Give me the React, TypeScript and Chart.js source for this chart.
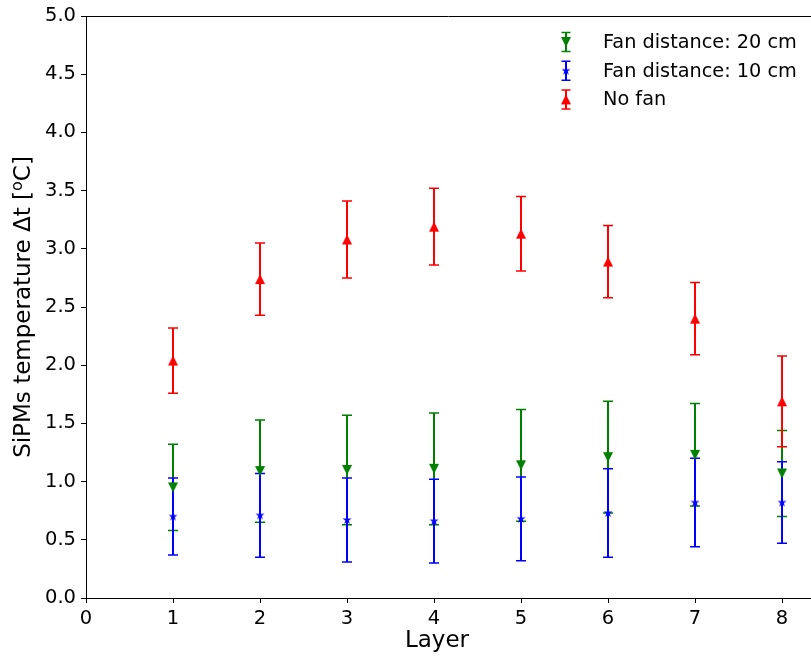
import { useEffect, useRef } from "react";
import { Chart, registerables } from "chart.js";

Chart.register(...registerables);

// Layer index on the x axis
const layers = [1, 2, 3, 4, 5, 6, 7, 8];

// Temperature rise (°C) and its uncertainty per layer
const fan20 = [0.95, 1.09, 1.1, 1.11, 1.14, 1.21, 1.23, 1.07];
const fan20Err = [0.37, 0.44, 0.47, 0.48, 0.48, 0.48, 0.44, 0.37];
const fan10 = [0.7, 0.71, 0.67, 0.66, 0.68, 0.73, 0.82, 0.82];
const fan10Err = [0.33, 0.36, 0.36, 0.36, 0.36, 0.38, 0.38, 0.35];
const noFan = [2.04, 2.74, 3.08, 3.19, 3.13, 2.89, 2.4, 1.69];
const noFanErr = [0.28, 0.31, 0.33, 0.33, 0.32, 0.31, 0.31, 0.39];

const xTicks = [0, 1, 2, 3, 4, 5, 6, 7, 8];
const yTicks = [0, 0.5, 1, 1.5, 2, 2.5, 3, 3.5, 4, 4.5, 5];

const FONT = "'DejaVu Sans', sans-serif";

type MarkerKind = "up" | "down" | "star";
type Series = {
  label: string;
  color: string;
  values: number[];
  errors: number[];
  marker: MarkerKind;
};

const series: Series[] = [
  { label: "Fan distance: 20 cm", color: "#008000", values: fan20, errors: fan20Err, marker: "down" },
  { label: "Fan distance: 10 cm", color: "#0000ff", values: fan10, errors: fan10Err, marker: "star" },
  { label: "No fan", color: "#ff0000", values: noFan, errors: noFanErr, marker: "up" },
];

function makeMarker(kind: MarkerKind, color: string): HTMLCanvasElement {
  const c = document.createElement("canvas");
  c.width = 14;
  c.height = 14;
  const g = c.getContext("2d")!;
  g.fillStyle = color;
  g.beginPath();
  const h = 5;
  if (kind === "up") {
    g.moveTo(7, 7 - h);
    g.lineTo(7 + h, 7 + h);
    g.lineTo(7 - h, 7 + h);
  } else if (kind === "down") {
    g.moveTo(7, 7 + h);
    g.lineTo(7 + h, 7 - h);
    g.lineTo(7 - h, 7 - h);
  } else {
    const R = 4.8;
    const r = R * 0.381966;
    for (let k = 0; k < 10; k++) {
      const rad = k % 2 === 0 ? R : r;
      const a = -Math.PI / 2 + (k * Math.PI) / 5;
      const px = 7 + rad * Math.cos(a);
      const py = 7 + rad * Math.sin(a);
      if (k === 0) g.moveTo(px, py);
      else g.lineTo(px, py);
    }
  }
  g.closePath();
  g.fill();
  return c;
}

let markerCache: HTMLCanvasElement[] | null = null;
function getMarkers(): HTMLCanvasElement[] {
  if (!markerCache) markerCache = series.map((s) => makeMarker(s.marker, s.color));
  return markerCache;
}

function drawErrorBar(ctx: CanvasRenderingContext2D, px: number, top: number, bot: number, color: string, cap: number) {
  ctx.strokeStyle = color;
  ctx.lineWidth = 2;
  ctx.beginPath();
  ctx.moveTo(px, top);
  ctx.lineTo(px, bot);
  ctx.stroke();
  ctx.lineWidth = 1.5;
  ctx.beginPath();
  ctx.moveTo(px - cap, top);
  ctx.lineTo(px + cap, top);
  ctx.moveTo(px - cap, bot);
  ctx.lineTo(px + cap, bot);
  ctx.stroke();
}

const errorBars = {
  id: "errorBars",
  beforeDatasetsDraw(chart: any) {
    const { ctx, scales } = chart;
    const x = scales.x;
    const y = scales.y;
    ctx.save();
    series.forEach((s) => {
      s.values.forEach((v, j) => {
        const px = x.getPixelForValue(layers[j]);
        const top = y.getPixelForValue(v + s.errors[j]);
        const bot = y.getPixelForValue(v - s.errors[j]);
        drawErrorBar(ctx, px, top, bot, s.color, 5);
      });
    });
    ctx.restore();
  },
};

const decorations = {
  id: "decorations",
  afterDraw(chart: any) {
    const { ctx, chartArea } = chart;
    ctx.save();

    // top spine
    ctx.strokeStyle = "#000";
    ctx.lineWidth = 1;
    ctx.beginPath();
    ctx.moveTo(chartArea.left, chartArea.top + 0.5);
    ctx.lineTo(chartArea.right, chartArea.top + 0.5);
    ctx.stroke();

    // legend
    const markers = getMarkers();
    ctx.font = `19.3px ${FONT}`;
    ctx.textBaseline = "middle";
    ctx.textAlign = "left";
    series.forEach((s, i) => {
      const cy = 42 + i * 28.7;
      const ix = 566;
      drawErrorBar(ctx, ix, cy - 9.5, cy + 9.5, s.color, 4.5);
      ctx.drawImage(markers[i], ix - 7, cy - 7);
      ctx.fillStyle = "#000";
      ctx.fillText(s.label, 603, cy + 1);
    });

    // x axis title
    ctx.font = `23px ${FONT}`;
    ctx.textAlign = "center";
    ctx.textBaseline = "alphabetic";
    ctx.fillStyle = "#000";
    ctx.fillText("Layer", 437, 647);

    // y axis title with superscript degree mark
    const main = "SiPMs temperature \u0394t [";
    const sup = "o";
    const tail = "C]";
    const bigFont = `23px ${FONT}`;
    const smallFont = `16px ${FONT}`;
    ctx.font = bigFont;
    const wMain = ctx.measureText(main).width;
    const wTail = ctx.measureText(tail).width;
    ctx.font = smallFont;
    const wSup = ctx.measureText(sup).width;
    const total = wMain + wSup + wTail;
    const cy = (chartArea.top + chartArea.bottom) / 2;
    ctx.translate(30, cy);
    ctx.rotate(-Math.PI / 2);
    ctx.textAlign = "left";
    let xPos = -total / 2;
    ctx.font = bigFont;
    ctx.fillText(main, xPos, 0);
    xPos += wMain;
    ctx.font = smallFont;
    ctx.fillText(sup, xPos, -8);
    xPos += wSup;
    ctx.font = bigFont;
    ctx.fillText(tail, xPos, 0);

    ctx.restore();
  },
};

export default function App() {
  const ref = useRef<HTMLCanvasElement | null>(null);

  useEffect(() => {
    const canvas = ref.current;
    if (!canvas) return;
    const markers = getMarkers();

    const chart = new Chart(canvas, {
      type: "scatter",
      data: {
        datasets: series.map((s, i) => ({
          label: s.label,
          data: s.values.map((v, j) => ({ x: layers[j], y: v })),
          pointStyle: markers[i],
          pointRadius: 5,
          showLine: false,
          order: series.length - i,
        })),
      },
      options: {
        responsive: false,
        animation: false,
        events: [],
        layout: { autoPadding: false, padding: { left: 0, right: 0, top: 16, bottom: 0 } },
        plugins: {
          legend: { display: false },
          tooltip: { enabled: false },
        },
        scales: {
          x: {
            type: "linear",
            min: 0,
            max: 8.333,
            afterBuildTicks: (scale: any) => {
              scale.ticks = xTicks.map((v) => ({ value: v }));
            },
            afterFit: (scale: any) => {
              scale.height = 58;
              scale.paddingLeft = 0;
              scale.paddingRight = 0;
            },
            ticks: {
              color: "#000",
              font: { family: FONT, size: 19.5 },
              padding: 4,
              maxRotation: 0,
              autoSkip: false,
              callback: (v: any) => String(v),
            },
            grid: {
              drawOnChartArea: false,
              drawTicks: true,
              tickLength: 5,
              tickColor: "#000",
              tickWidth: 1,
            },
            border: { display: true, color: "#000", width: 1 },
          },
          y: {
            type: "linear",
            min: 0,
            max: 5,
            afterBuildTicks: (scale: any) => {
              scale.ticks = yTicks.map((v) => ({ value: v }));
            },
            afterFit: (scale: any) => {
              scale.width = 86;
              scale.paddingTop = 0;
              scale.paddingBottom = 0;
            },
            ticks: {
              color: "#000",
              font: { family: FONT, size: 19.5 },
              padding: 5,
              autoSkip: false,
              callback: (v: any) => Number(v).toFixed(1),
            },
            grid: {
              drawOnChartArea: false,
              drawTicks: true,
              tickLength: 5,
              tickColor: "#000",
              tickWidth: 1,
            },
            border: { display: true, color: "#000", width: 1 },
          },
        },
      },
      plugins: [errorBars, decorations],
    });

    return () => chart.destroy();
  }, []);

  return (
    <div style={{ position: "absolute", left: 0, top: 0, width: 811, height: 656, background: "#fff" }}>
      <canvas ref={ref} width={811} height={656} style={{ display: "block" }} />
    </div>
  );
}
